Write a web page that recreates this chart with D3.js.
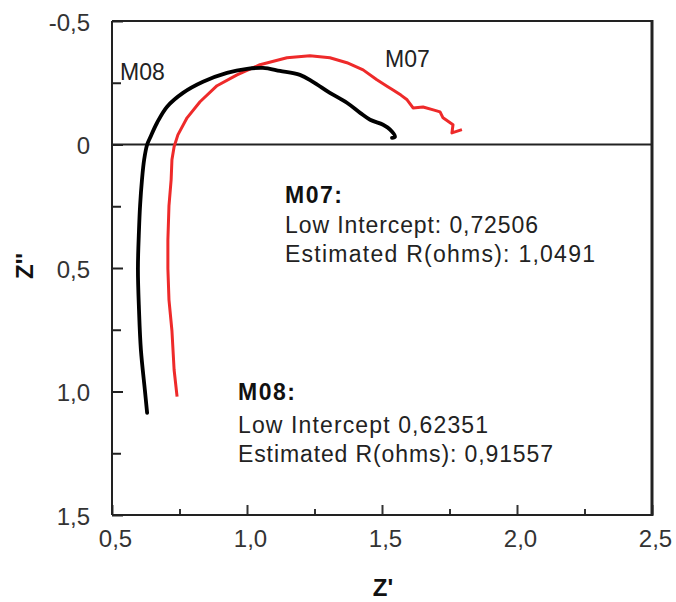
<!DOCTYPE html>
<html lang="en">
<head>
<meta charset="UTF-8">
<title>Nyquist plot M07 / M08</title>
<script src="https://d3js.org/d3.v7.min.js"></script>
<style>
  body { margin: 0; padding: 0; background: #ffffff; }
  svg { display: block; font-family: "Liberation Sans", Arial, sans-serif; }
  .tick text { font-size: 24px; fill: #333; }
  .note { font-size: 23px; fill: #222; }
</style>
</head>
<body>
<div id="chart"></div>
<script>
const m08Re = [0.630, 0.622, 0.607, 0.600, 0.596, 0.600, 0.604, 0.611, 0.619, 0.630, 0.641, 0.667, 0.704, 0.763, 0.837, 0.926, 1.000, 1.059, 1.122, 1.196, 1.244, 1.307, 1.370, 1.419, 1.456, 1.504, 1.530, 1.548, 1.537];
const m08Im = [1.086, 0.997, 0.831, 0.669, 0.503, 0.345, 0.248, 0.143, 0.062, 0.001, -0.027, -0.088, -0.153, -0.209, -0.254, -0.290, -0.306, -0.310, -0.298, -0.282, -0.254, -0.209, -0.169, -0.128, -0.100, -0.080, -0.060, -0.031, -0.027];

const m07Re = [0.741, 0.730, 0.722, 0.711, 0.707, 0.707, 0.711, 0.719, 0.722, 0.730, 0.744, 0.778, 0.826, 0.889, 0.963, 1.048, 1.148, 1.233, 1.307, 1.370, 1.430, 1.481, 1.520, 1.541, 1.570, 1.593, 1.615, 1.652, 1.690, 1.715, 1.726, 1.763, 1.759, 1.796];
const m07Im = [1.021, 0.912, 0.754, 0.629, 0.503, 0.386, 0.248, 0.143, 0.062, 0.009, -0.039, -0.108, -0.173, -0.238, -0.282, -0.323, -0.351, -0.359, -0.351, -0.331, -0.302, -0.262, -0.235, -0.221, -0.200, -0.181, -0.148, -0.152, -0.140, -0.132, -0.108, -0.080, -0.047, -0.060];

const xTicks = [0.5, 1.0, 1.5, 2.0, 2.5];
const xTickLabels = ["0,5", "1,0", "1,5", "2,0", "2,5"];
const xMinor = [0.75, 1.25, 1.75, 2.25];
const yTicks = [-0.5, 0, 0.5, 1.0, 1.5];
const yTickLabels = ["-0,5", "0", "0,5", "1,0", "1,5"];
const yMinor = [-0.25, 0.25, 0.75, 1.25];

const width = 676, height = 602;
const plotLeft = 112, plotRight = 652, plotTop = 21, plotBottom = 515;

const x = d3.scaleLinear().domain([0.5, 2.5]).range([plotLeft, plotRight]);
const y = d3.scaleLinear().domain([-0.5, 1.5]).range([plotTop, plotBottom]);

const svg = d3.select("#chart").append("svg")
    .attr("width", width)
    .attr("height", height);

// minor ticks first, no labels
svg.append("g")
    .attr("transform", `translate(0,${plotBottom})`)
    .call(d3.axisBottom(x).tickValues(xMinor).tickSize(-6).tickFormat(""))
    .call(g => g.select(".domain").remove())
    .call(g => g.selectAll("line").attr("stroke", "#333").attr("stroke-width", 2));
svg.append("g")
    .attr("transform", `translate(${plotLeft},0)`)
    .call(d3.axisLeft(y).tickValues(yMinor).tickSize(-9).tickFormat(""))
    .call(g => g.select(".domain").remove())
    .call(g => g.selectAll("line").attr("stroke", "#222").attr("stroke-width", 2));

// major ticks with labels
svg.append("g")
    .attr("transform", `translate(0,${plotBottom})`)
    .call(d3.axisBottom(x).tickValues(xTicks).tickSize(-10).tickPadding(15)
        .tickFormat((d, i) => xTickLabels[i]))
    .call(g => g.select(".domain").remove())
    .call(g => g.selectAll("line").attr("stroke", "#333").attr("stroke-width", 2))
    .call(g => g.selectAll("text").attr("dx", 3));
svg.append("g")
    .attr("transform", `translate(${plotLeft},0)`)
    .call(d3.axisLeft(y).tickValues(yTicks).tickSize(-11).tickPadding(22)
        .tickFormat((d, i) => yTickLabels[i]))
    .call(g => g.select(".domain").remove())
    .call(g => g.selectAll("line").attr("stroke", "#222").attr("stroke-width", 2))
    .call(g => g.selectAll("text").attr("dy", "0.38em"));

// frame
const frame = svg.append("g").attr("stroke", "#222").attr("fill", "none");
frame.append("line").attr("x1", plotLeft).attr("x2", plotRight).attr("y1", plotTop).attr("y2", plotTop).attr("stroke-width", 2);
frame.append("line").attr("x1", plotLeft).attr("x2", plotRight).attr("y1", plotBottom).attr("y2", plotBottom).attr("stroke-width", 2);
frame.append("line").attr("x1", plotLeft).attr("x2", plotLeft).attr("y1", plotTop).attr("y2", plotBottom).attr("stroke-width", 2);
frame.append("line").attr("x1", plotRight).attr("x2", plotRight).attr("y1", plotTop - 1).attr("y2", plotBottom + 1).attr("stroke-width", 3);
// zero line
frame.append("line").attr("x1", plotLeft).attr("x2", plotRight).attr("y1", y(0)).attr("y2", y(0)).attr("stroke-width", 2);

// curves
const line = d3.line().x(d => x(d[0])).y(d => y(d[1]));
svg.append("path")
    .datum(d3.zip(m07Re, m07Im))
    .attr("d", line)
    .attr("fill", "none")
    .attr("stroke", "#ee2a2a")
    .attr("stroke-width", 3)
    .attr("stroke-linejoin", "round");
svg.append("path")
    .datum(d3.zip(m08Re, m08Im))
    .attr("d", line.curve(d3.curveCatmullRom))
    .attr("fill", "none")
    .attr("stroke", "#000")
    .attr("stroke-width", 3.8)
    .attr("stroke-linecap", "round");

// labels on the curves
svg.append("text").attr("class", "note").attr("x", 120).attr("y", 80).text("M08");
svg.append("text").attr("class", "note").attr("x", 385).attr("y", 67).text("M07");

// fit results
function note(xp, yp, str, len, bold) {
    svg.append("text").attr("class", "note")
        .attr("x", xp).attr("y", yp)
        .attr("textLength", len).attr("lengthAdjust", "spacing")
        .style("font-weight", bold ? "bold" : null)
        .style("fill", bold ? "#111" : null)
        .text(str);
}
note(285, 203, "M07:", 57, true);
note(285, 233, "Low Intercept:  0,72506", 253);
note(285, 262, "Estimated R(ohms): 1,0491", 310);
note(238, 400, "M08:", 57, true);
note(238, 433, "Low Intercept  0,62351", 250);
note(238, 462, "Estimated R(ohms): 0,91557", 315);

// axis titles
svg.append("text")
    .attr("x", 383).attr("y", 596)
    .attr("text-anchor", "middle")
    .style("font-size", "24px").style("font-weight", "bold").style("fill", "#111")
    .text("Z'");
svg.append("text")
    .attr("transform", "translate(33,266) rotate(-90)")
    .attr("text-anchor", "middle")
    .style("font-size", "24px").style("font-weight", "bold").style("fill", "#111")
    .text("Z''");
</script>
</body>
</html>
